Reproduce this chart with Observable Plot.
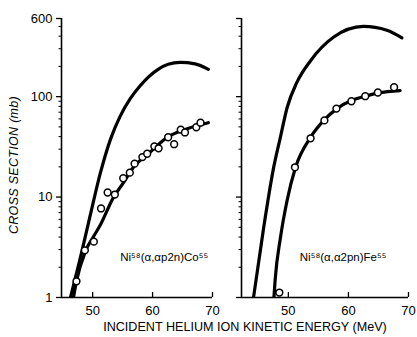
<!DOCTYPE html>
<html><head><meta charset="utf-8">
<script src="https://cdn.jsdelivr.net/npm/d3@7"></script>
<script src="https://cdn.jsdelivr.net/npm/@observablehq/plot@0.6"></script>
<style>
body{margin:0;background:#fff;}
#wrap{position:relative;width:417px;height:337px;overflow:hidden;font-family:"Liberation Sans",Arial,sans-serif;color:#000;}
#left,#right{position:absolute;top:0;}
#left{left:0}
#right{left:220px}
#ytitle{position:absolute;left:14px;top:165px;transform:translate(-50%,-50%) rotate(-90deg);font-style:italic;font-size:12.5px;white-space:nowrap;letter-spacing:0.3px;}
#xtitle{position:absolute;left:245px;top:327px;transform:translate(-50%,-50%);font-size:12.6px;white-space:nowrap;letter-spacing:0;}
</style></head>
<body>
<div id="wrap">
  <div id="left"></div>
  <div id="right"></div>
  <div id="ytitle">CROSS SECTION (mb)</div>
  <div id="xtitle">INCIDENT HELIUM ION KINETIC ENERGY (MeV)</div>
</div>
<script>
// ---- data ----
// Left panel: Ni58(α,αp2n)Co55
const coTheoryE = [46.3, 48.0, 49.6, 51.3, 53.0, 54.6, 56.3, 58.0, 60.8, 62.6, 64.6, 67.1, 69.3];
const coTheoryS = [1.0, 2.56, 6.6, 17.5, 38, 64, 96, 130, 185, 210, 219, 212, 187];
const coFitE = [46.8, 47.3, 48.8, 50.1, 51.3, 53.5, 55.0, 56.8, 59.6, 62.5, 65.8, 69.3];
const coFitS = [1.0, 1.45, 2.9, 4.0, 5.3, 10, 13.5, 19.8, 28, 39.5, 48, 55];
const coExpE = [47.3, 48.7, 50.2, 51.4, 52.5, 53.7, 55.1, 56.2, 57.0, 58.3, 59.1, 60.3, 61.0, 62.6, 63.6, 64.7, 65.4, 67.3, 68.0];
const coExpS = [1.45, 2.95, 3.6, 7.7, 11.1, 10.6, 15.4, 17.5, 21.5, 25, 27, 32, 30.6, 39.4, 33.6, 47, 44, 49.6, 55];
// Right panel: Ni58(α,α2pn)Fe55
const feTheoryE = [44.2, 45.9, 47.5, 48.7, 49.8, 51.4, 53.7, 57.5, 62.5, 66.4, 68.9];
const feTheoryS = [1.0, 5.0, 19, 40, 78, 138, 228, 390, 500, 458, 385];
const feFitE = [47.6, 47.8, 48.7, 49.8, 51.2, 53.7, 55.9, 58.1, 60.6, 62.8, 65.0, 68.6];
const feFitS = [1.0, 1.5, 4.0, 9.3, 19.8, 39.4, 58, 76, 92, 101, 109, 115];
const feExpE = [48.5, 51.1, 53.7, 56.0, 58.0, 60.5, 62.8, 64.9, 67.6];
const feExpS = [1.12, 19.8, 38.5, 58, 76, 90, 101, 110, 124];
// axes
const yDomain = [1, 600];
const yMajor = [1, 10, 100, 600];
const yMinor = [2,3,4,5,6,7,8,9,20,30,40,50,60,70,80,90,200,300,400,500];
const xTicks = [50, 60, 70];
const leftXDomain = [44.8, 70];
const rightXDomain = [42.2, 70];
const coLabel = "Ni⁵⁸(α,αp2n)Co⁵⁵";
const feLabel = "Ni⁵⁸(α,α2pn)Fe⁵⁵";
const coLabelAt = {E: 54.6, S: 2.5};
const feLabelAt = {E: 51.9, S: 2.5};

const zip = (E, S) => E.map((e, i) => ({E: e, S: S[i]}));
const blank = () => "";

function panel({xDomain, width, marginLeft, marginRight, theory, fit, exp, label, labelAt, showYLabels}) {
  return Plot.plot({
    width, height: 337,
    marginTop: 18, marginBottom: 40, marginLeft, marginRight,
    style: {fontFamily: '"Liberation Sans", Arial, sans-serif', fontSize: "13px", background: "white", color: "black", overflow: "visible"},
    x: {domain: xDomain},
    y: {type: "log", domain: yDomain},
    marks: [
      Plot.axisY({ticks: yMajor, tickSize: 5, tickFormat: blank, label: null, strokeWidth: 1.3}),
      Plot.axisY({ticks: yMinor, tickSize: 2.5, tickFormat: blank, label: null}),
      showYLabels ? Plot.text(yMajor, {x: () => xDomain[0], y: d => d, text: d => String(d), dx: -9, textAnchor: "end", fontSize: 13}) : null,
      Plot.axisX({ticks: xTicks, tickSize: 0, tickPadding: 8, tickFormat: d => String(d), label: null}),
      Plot.ruleX(xTicks, {y1: 1, y2: 1.12, strokeWidth: 1.3}),
      Plot.ruleX([xDomain[0]], {strokeWidth: 1.6}),
      Plot.ruleY([1], {strokeWidth: 1.6}),
      Plot.line(theory, {x: "E", y: "S", curve: "monotone-x", stroke: "black", strokeWidth: 3.2, clip: true}),
      Plot.line(fit, {x: "E", y: "S", curve: "monotone-x", stroke: "black", strokeWidth: 3.2, clip: true}),
      Plot.dot(exp, {x: "E", y: "S", r: 3.4, stroke: "black", strokeWidth: 1.5, fill: "white"}),
      Plot.text([label], {x: () => labelAt.E, y: () => labelAt.S, text: d => d, textAnchor: "start", fontSize: 11.5})
    ]
  });
}

document.getElementById("left").append(panel({
  xDomain: leftXDomain, width: 220, marginLeft: 61, marginRight: 8,
  theory: zip(coTheoryE, coTheoryS), fit: zip(coFitE, coFitS), exp: zip(coExpE, coExpS),
  label: coLabel, labelAt: coLabelAt, showYLabels: true
}));
document.getElementById("right").append(panel({
  xDomain: rightXDomain, width: 197, marginLeft: 21, marginRight: 9,
  theory: zip(feTheoryE, feTheoryS), fit: zip(feFitE, feFitS), exp: zip(feExpE, feExpS),
  label: feLabel, labelAt: feLabelAt, showYLabels: false
}));
</script>
</body></html>
